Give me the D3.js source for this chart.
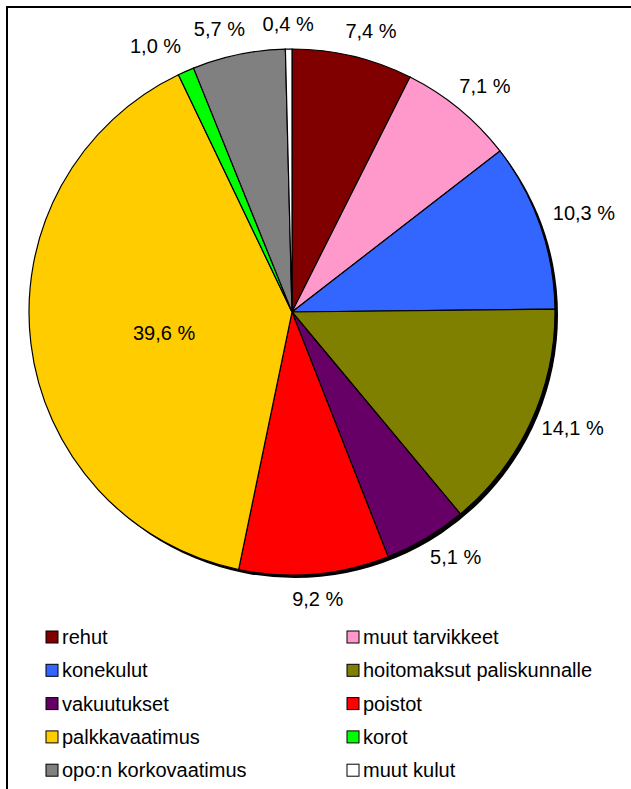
<!DOCTYPE html>
<html>
<head>
<meta charset="utf-8">
<script src="https://cdn.jsdelivr.net/npm/d3@7"></script>
<style>
  body { margin: 0; background: #fff; }
  svg { display: block; font-family: "Liberation Sans", Arial, sans-serif; }
</style>
</head>
<body>
<div id="chart"></div>
<script>
// data
const categories = ["rehut", "muut tarvikkeet", "konekulut", "hoitomaksut paliskunnalle",
  "vakuutukset", "poistot", "palkkavaatimus", "korot", "opo:n korkovaatimus", "muut kulut"];
const shares = [7.4, 7.1, 10.3, 14.1, 5.1, 9.2, 39.6, 1.0, 5.7, 0.4];
const sliceColors = ["#800000", "#FF99CC", "#3366FF", "#808000", "#660066",
  "#FF0000", "#FFCC00", "#00FF00", "#808080", "#FFFFFF"];

// small sideways label tweaks (excel shifts some labels a bit)
const labelNudge = { "rehut": 9, "vakuutukset": 9, "korot": -14, "opo:n korkovaatimus": -11 };

const width = 631, height = 789;
const cx = 292, cy = 312, radius = 263;

const svg = d3.select("#chart").append("svg")
  .attr("width", width)
  .attr("height", height);

// outer frame (right and bottom go past the window)
svg.append("rect")
  .attr("x", 7).attr("y", 7)
  .attr("width", 650).attr("height", 820)
  .attr("fill", "none")
  .attr("stroke", "#000")
  .attr("stroke-width", 2);

const data = categories.map((c, i) => ({ name: c, value: shares[i], color: sliceColors[i] }));

const pie = d3.pie()
  .value(d => d.value)
  .sort(null);

const arc = d3.arc()
  .innerRadius(0)
  .outerRadius(radius);

const arcs = pie(data);

const g = svg.append("g")
  .attr("transform", `translate(${cx},${cy})`);

// shadow
g.append("circle")
  .attr("cx", 3).attr("cy", 3)
  .attr("r", radius)
  .attr("fill", "#000");

g.selectAll("path.slice")
  .data(arcs)
  .enter()
  .append("path")
  .attr("class", "slice")
  .attr("d", arc)
  .attr("fill", d => d.data.color)
  .attr("stroke", "#000")
  .attr("stroke-width", 1.2);

const fmt = v => d3.format(".1f")(v).replace(".", ",") + " %";

// labels
g.selectAll("text.lbl")
  .data(arcs)
  .enter()
  .append("text")
  .attr("class", "lbl")
  .attr("font-size", 20)
  .attr("text-anchor", "middle")
  .attr("dy", "0.35em")
  .attr("fill", "#000")
  .text(d => fmt(d.data.value))
  .each(function(d) {
    const a = (d.startAngle + d.endAngle) / 2;
    const s = Math.sin(a), c = -Math.cos(a);
    let x, y;
    if (d.data.value > 30) {
      // big slice: label inside
      x = s * radius * 0.49;
      y = c * radius * 0.49 + 5;
    } else {
      const w = this.getComputedTextLength();
      const rr = radius + 15;
      x = s * rr + s * w / 2;
      y = c * rr + c * 10 - 5 * Math.abs(s);
    }
    x += labelNudge[d.data.name] || 0;
    d3.select(this).attr("x", x).attr("y", y);
  });

// legend
const legend = svg.append("g");
const colX = [46, 347];
const rowY0 = 637, rowStep = 33.3;

const items = legend.selectAll("g.item")
  .data(data)
  .enter()
  .append("g")
  .attr("class", "item")
  .attr("transform", (d, i) => `translate(${colX[i % 2]},${rowY0 + Math.floor(i / 2) * rowStep})`);

items.append("rect")
  .attr("x", 0).attr("y", -6)
  .attr("width", 12).attr("height", 12)
  .attr("fill", d => d.color)
  .attr("stroke", "#000")
  .attr("stroke-width", 1);

items.append("text")
  .attr("x", 16)
  .attr("y", 0)
  .attr("dy", "0.35em")
  .attr("font-size", 20)
  .attr("fill", "#000")
  .text(d => d.name);
</script>
</body>
</html>
